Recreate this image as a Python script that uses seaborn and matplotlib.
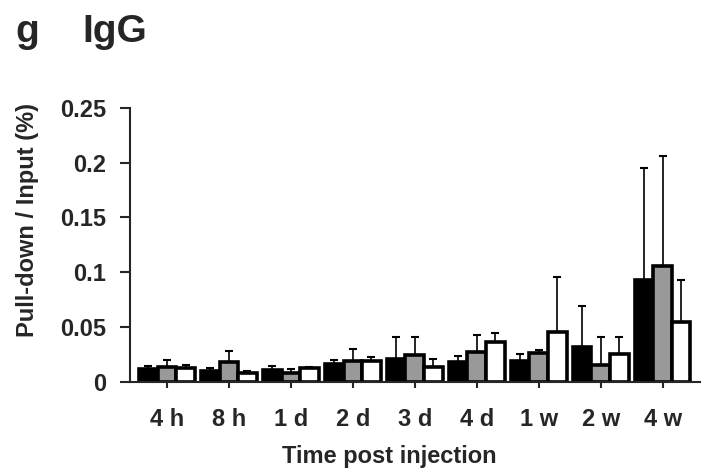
import numpy as np
import pandas as pd
import seaborn as sns
import matplotlib.pyplot as plt

# values
times = ["4 h", "8 h", "1 d", "2 d", "3 d", "4 d", "1 w", "2 w", "4 w"]
groups = ["A", "B", "C"]
mean_a = [0.012, 0.0097, 0.011, 0.0165, 0.021, 0.018, 0.019, 0.032, 0.093]
mean_b = [0.014, 0.018, 0.0085, 0.019, 0.025, 0.027, 0.026, 0.0155, 0.106]
mean_c = [0.013, 0.0085, 0.0125, 0.019, 0.014, 0.036, 0.046, 0.0255, 0.0545]
top_a = [0.0145, 0.0125, 0.0145, 0.020, 0.041, 0.0236, 0.0255, 0.069, 0.195]
top_b = [0.020, 0.028, 0.012, 0.030, 0.041, 0.043, 0.029, 0.041, 0.206]
top_c = [0.0155, 0.010, 0.0135, 0.023, 0.021, 0.045, 0.0955, 0.041, 0.093]
colors = ["#000000", "#999999", "#ffffff"]

df = pd.DataFrame({
    "time": times * 3,
    "group": [g for g in groups for _ in times],
    "value": mean_a + mean_b + mean_c,
})
tops = {"A": top_a, "B": top_b, "C": top_c}

sns.set_style("ticks")
plt.rcParams["font.family"] = ["Liberation Sans", "DejaVu Sans"]
plt.rcParams["font.weight"] = "bold"

fig = plt.figure(figsize=(7.09, 4.69), dpi=100)
ax = fig.add_axes([0.183, 0.1855, 0.804, 0.585])

sns.barplot(data=df, x="time", y="value", hue="group", order=times,
            hue_order=groups, palette=colors, width=0.9, errorbar=None,
            edgecolor="black", linewidth=2.6, legend=False, ax=ax)

# upper error bars only
for container, g in zip(ax.containers, groups):
    for bar, top in zip(container, tops[g]):
        x = bar.get_x() + bar.get_width() / 2
        h = bar.get_height()
        ax.errorbar(x, h, yerr=[[0], [top - h]], fmt="none", ecolor="black",
                    elinewidth=1.2, capsize=3, capthick=1.5, zorder=1)

ax.set_ylim(0, 0.25)
ax.set_xlim(-0.6, 8.6)
ax.set_yticks([0, 0.05, 0.1, 0.15, 0.2, 0.25])
ax.set_yticklabels(["0", "0.05", "0.1", "0.15", "0.2", "0.25"])
sns.despine(ax=ax)
ax.spines["left"].set_linewidth(1.5)
ax.spines["bottom"].set_linewidth(1.5)
ax.tick_params(axis="y", width=1.5, length=7, pad=10, labelsize=17)
ax.tick_params(axis="x", width=1.5, length=4, pad=15, labelsize=17)
for lab in ax.get_xticklabels() + ax.get_yticklabels():
    lab.set_fontweight("bold")

ax.set_xlabel("Time post injection", fontsize=17, fontweight="bold")
ax.set_ylabel("Pull-down / Input (%)", fontsize=17, fontweight="bold")
ax.xaxis.set_label_coords(0.456, -0.23)
ax.yaxis.set_label_coords(-0.16, 0.59)

fig.text(0.021, 0.91, "g", fontsize=28, fontweight="bold", va="baseline")
fig.text(0.116, 0.91, "IgG", fontsize=28, fontweight="bold", va="baseline")

fig.savefig("out.png", dpi=100)
